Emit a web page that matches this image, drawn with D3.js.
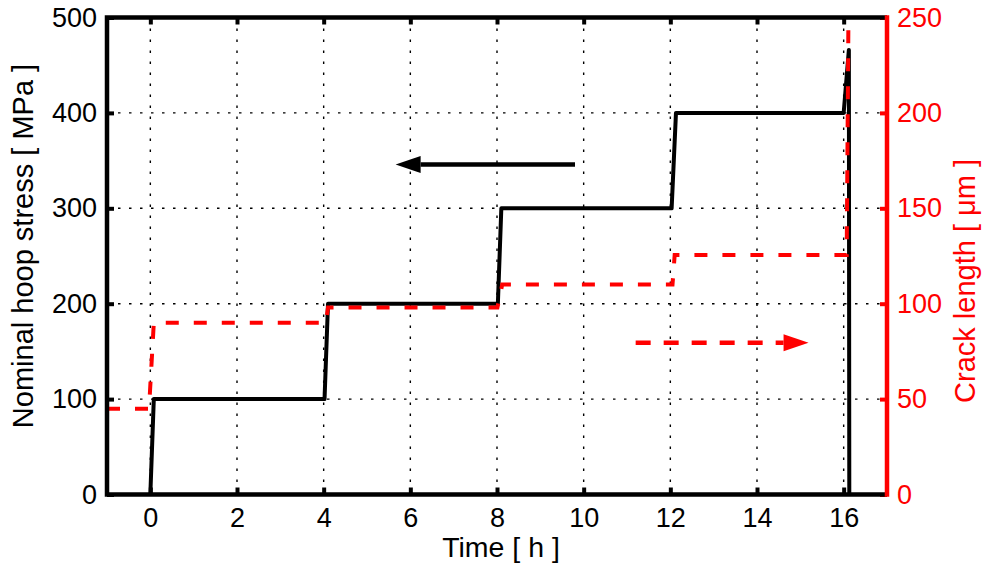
<!DOCTYPE html>
<head>
<meta charset="utf-8">
<title></title>
<style>
body { margin: 0; background: #fff; }
text { font-family: "Liberation Sans", Arial, sans-serif; }
.grid line { stroke: #000; stroke-width: 1.4px; stroke-dasharray: 2.5,8.5; }
</style>
</head>
<body>
<script src="https://d3js.org/d3.v7.min.js"></script>
<script>

// time [h] and nominal hoop stress [MPa]
var stressTime = [0, 0.08, 4.02, 4.1, 8.02, 8.1, 12.03, 12.13, 16, 16.12, 16.13];
var stressVal  = [0, 100, 100, 200, 200, 300, 300, 400, 400, 466, 0];

// time [h] and crack length [um]
var crackTime = [-1, -0.03, 0.08, 4.05, 4.1, 8.01, 8.12, 12.05, 12.1, 16.07, 16.11];
var crackVal  = [45, 45, 90, 90, 98, 98, 110, 110, 125.5, 125.5, 250];

var xTicks = [0, 2, 4, 6, 8, 10, 12, 14, 16];
var leftTicks = [0, 100, 200, 300, 400, 500];
var rightTicks = [0, 50, 100, 150, 200, 250];

// arrows: [x from, x to, y]
var stressArrow = [9.8, 5.66, 346];
var crackArrow = [11.2, 15.19, 79.5];

var width = 985, height = 571;
var pLeft = 107, pRight = 887, pTop = 17.5, pBottom = 494.5;

var svg = d3.select("body").append("svg")
    .attr("width", width)
    .attr("height", height);

var x = d3.scaleLinear().domain([-1, 17]).range([pLeft, pRight]);
var y = d3.scaleLinear().domain([0, 500]).range([pBottom, pTop]);
var y2 = d3.scaleLinear().domain([0, 250]).range([pBottom, pTop]);

// dotted grid
var grid = svg.append("g").attr("class", "grid");
grid.selectAll(".gx")
    .data(xTicks)
    .enter().append("line")
    .attr("x1", function(d) { return x(d); })
    .attr("x2", function(d) { return x(d); })
    .attr("y1", pTop)
    .attr("y2", pBottom);
grid.selectAll(".gy")
    .data(leftTicks.slice(1, -1))
    .enter().append("line")
    .attr("x1", pLeft)
    .attr("x2", pRight)
    .attr("y1", function(d) { return y(d); })
    .attr("y2", function(d) { return y(d); });

// stress curve
var stressLine = d3.line()
    .x(function(d, i) { return x(stressTime[i]); })
    .y(function(d) { return y(d); });

svg.append("path")
    .datum(stressVal)
    .attr("d", stressLine)
    .style("fill", "none")
    .style("stroke", "#000")
    .style("stroke-width", 4)
    .style("stroke-linejoin", "round");

// crack curve
var crackLine = d3.line()
    .x(function(d, i) { return x(crackTime[i]); })
    .y(function(d) { return y2(d); });

svg.append("path")
    .datum(crackVal)
    .attr("d", crackLine)
    .style("fill", "none")
    .style("stroke", "#ff0000")
    .style("stroke-width", 4)
    .style("stroke-dasharray", "13,15");

// arrows
function arrow(x0, x1, yy, color, dash) {
  var dir = x1 > x0 ? 1 : -1;
  var head = 25, half = 8.5;
  svg.append("line")
      .attr("x1", x(x0))
      .attr("x2", x(x1) - dir * head)
      .attr("y1", yy)
      .attr("y2", yy)
      .style("stroke", color)
      .style("stroke-width", 4.5)
      .style("stroke-dasharray", dash);
  var tip = x(x1);
  svg.append("path")
      .attr("d", "M" + tip + "," + yy +
                 "L" + (tip - dir * head) + "," + (yy - half) +
                 "L" + (tip - dir * head) + "," + (yy + half) + "Z")
      .style("fill", color);
}
arrow(stressArrow[0], stressArrow[1], y(stressArrow[2]), "#000", null);
arrow(crackArrow[0], crackArrow[1], y2(crackArrow[2]), "#ff0000", "15,13");

// axes
function styleAxis(g, color) {
  g.select(".domain").remove();
  g.selectAll(".tick line").style("stroke", color).style("stroke-width", 4);
  g.selectAll(".tick text")
      .style("fill", color)
      .style("font-size", "27px")
      .style("font-family", "'Liberation Sans', Arial, sans-serif");
}

var gBottom = svg.append("g")
    .attr("transform", "translate(0," + pBottom + ")")
    .call(d3.axisBottom(x).tickValues(xTicks).tickSize(-7).tickPadding(13));
styleAxis(gBottom, "#000");

var gTop = svg.append("g")
    .attr("transform", "translate(0," + pTop + ")")
    .call(d3.axisTop(x).tickValues(xTicks).tickSize(-7).tickFormat(""));
styleAxis(gTop, "#000");

var gLeft = svg.append("g")
    .attr("transform", "translate(" + pLeft + ",0)")
    .call(d3.axisLeft(y).tickValues(leftTicks).tickSize(-7).tickPadding(10));
styleAxis(gLeft, "#000");

var gRight = svg.append("g")
    .attr("transform", "translate(" + pRight + ",0)")
    .call(d3.axisRight(y2).tickValues(rightTicks).tickSize(-7).tickPadding(10));
styleAxis(gRight, "#ff0000");

// box lines
svg.append("path")
    .attr("d", "M" + pRight + "," + pTop + "H" + pLeft + "V" + pBottom + "H" + pRight)
    .style("fill", "none")
    .style("stroke", "#000")
    .style("stroke-width", 4.5);
svg.append("line")
    .attr("x1", pRight).attr("x2", pRight)
    .attr("y1", pTop).attr("y2", pBottom)
    .style("stroke", "#ff0000")
    .style("stroke-width", 4.5)
    .style("stroke-linecap", "square");

// labels
svg.append("text")
    .attr("transform", "translate(" + ((pLeft + pRight) / 2 + 4) + ",557)")
    .attr("text-anchor", "middle")
    .style("font-size", "28.5px")
    .text("Time [ h ]");

svg.append("text")
    .attr("transform", "translate(33,246) rotate(-90)")
    .attr("text-anchor", "middle")
    .style("font-size", "29px")
    .text("Nominal hoop stress [ MPa ]");

svg.append("text")
    .attr("transform", "translate(975,281) rotate(-90)")
    .attr("text-anchor", "middle")
    .style("font-size", "29px")
    .style("fill", "#ff0000")
    .text("Crack length [ \u03bcm ]");

</script>
</body>
</html>
